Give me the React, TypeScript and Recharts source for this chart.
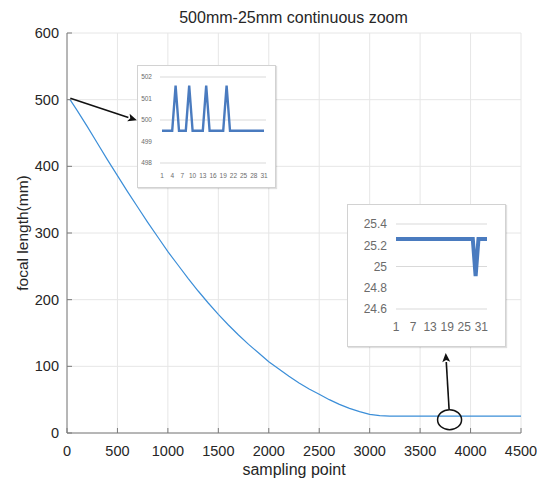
import {
  LineChart,
  Line,
  XAxis,
  YAxis,
  CartesianGrid,
  ReferenceLine,
  ReferenceDot,
} from 'recharts';

// main curve
const samplePoints = [
  30, 100, 200, 300, 400, 500, 600, 700, 800, 900, 1000, 1100, 1200, 1300,
  1400, 1500, 1600, 1700, 1800, 1900, 2000, 2100, 2200, 2300, 2400, 2500,
  2600, 2700, 2800, 2900, 3000, 3100, 3200, 3400, 3600, 3800, 4000, 4200,
  4500,
];
const focalLength = [
  500, 484, 460, 435, 410, 386, 362, 339, 316, 294, 272, 252, 232, 213, 195,
  178, 162, 147, 133, 120, 107, 96, 85, 75, 66, 58, 50, 43, 37, 32, 28, 26,
  25.3, 25.3, 25.3, 25.3, 25.3, 25.3, 25.3,
];
const xTicks = [0, 500, 1000, 1500, 2000, 2500, 3000, 3500, 4000, 4500];
const yTicks = [0, 100, 200, 300, 400, 500, 600];

// inset at the 500mm end
const startIndex = [
  '1', '2', '3', '4', '5', '6', '7', '8', '9', '10', '11', '12', '13', '14',
  '15', '16', '17', '18', '19', '20', '21', '22', '23', '24', '25', '26',
  '27', '28', '29', '30', '31',
];
const startValues = [
  499.5, 499.5, 499.5, 499.5, 501.6, 499.5, 499.5, 499.5, 501.6, 499.5,
  499.5, 499.5, 499.5, 501.6, 499.5, 499.5, 499.5, 499.5, 499.5, 501.6,
  499.5, 499.5, 499.5, 499.5, 499.5, 499.5, 499.5, 499.5, 499.5, 499.5,
  499.5,
];
const startTicks = [498, 499, 500, 501, 502];

// inset at the 25mm end
const endIndex = [
  '1', '2', '3', '4', '5', '6', '7', '8', '9', '10', '11', '12', '13', '14',
  '15', '16', '17', '18', '19', '20', '21', '22', '23', '24', '25', '26',
  '27', '28', '29', '30', '31', '32', '33',
];
const endValues = [
  25.26, 25.26, 25.26, 25.26, 25.26, 25.26, 25.26, 25.26, 25.26, 25.26,
  25.26, 25.26, 25.26, 25.26, 25.26, 25.26, 25.26, 25.26, 25.26, 25.26,
  25.26, 25.26, 25.26, 25.26, 25.26, 25.26, 25.26, 25.26, 24.91, 25.26,
  25.26, 25.26, 25.26,
];
const endTicks = [24.6, 24.8, 25, 25.2, 25.4];

// annotation arrows / circle (data coords)
const arrowToStart = [
  { x: 33, y: 502 },
  { x: 693, y: 469 },
];
const arrowToEnd = [
  { x: 3787, y: 36 },
  { x: 3754, y: 120 },
];
const circleAt = { x: 3792, y: 20 };

const mainData = samplePoints.map((x, i) => ({ x, f: focalLength[i] }));
const startData = startIndex.map((k, i) => ({ k, v: startValues[i] }));
const endData = endIndex.map((k, i) => ({ k, v: endValues[i] }));

const FONT = '"Liberation Sans", Arial, sans-serif';
const AXIS = '#7a7a7a';
const TEXT = '#262626';
const INSET_LINE = '#4a7bbf';
const INSET_TEXT = '#6b6b6b';

const LeftTick = ({ x, y, payload }: any) => (
  <g>
    <text x={x} y={y} textAnchor="end" dominantBaseline="central" fontSize={14.5} fill={TEXT} fontFamily={FONT}>
      {payload.value}
    </text>
    <line x1={x + 8} x2={x + 13} y1={y} y2={y} stroke={AXIS} />
  </g>
);

const BottomTick = ({ x, y, payload }: any) => (
  <g>
    <text x={x} y={y} dy="0.71em" textAnchor="middle" fontSize={14.5} fill={TEXT} fontFamily={FONT}>
      {payload.value}
    </text>
    <line x1={x} x2={x} y1={y - 13} y2={y - 18} stroke={AXIS} />
  </g>
);

const TopTick = ({ x, y }: any) => <line x1={x} x2={x} y1={y} y2={y + 5} stroke={AXIS} />;
const RightTick = ({ x, y }: any) => <line x1={x} x2={x - 5} y1={y} y2={y} stroke={AXIS} />;

const Arrow = (props: any) => {
  const { x1, y1, x2, y2 } = props;
  const a = Math.atan2(y2 - y1, x2 - x1);
  const len = 9;
  const w = 4;
  const bx = x2 - len * Math.cos(a);
  const by = y2 - len * Math.sin(a);
  const px = -Math.sin(a) * w;
  const py = Math.cos(a) * w;
  return (
    <g>
      <line x1={x1} y1={y1} x2={bx} y2={by} stroke="#111" strokeWidth={1.6} />
      <path
        d={`M${x2},${y2} L${bx + px},${by + py} L${bx + 2 * Math.cos(a)},${by + 2 * Math.sin(a)} L${bx - px},${by - py} Z`}
        fill="#111"
      />
    </g>
  );
};

const Circle = ({ cx, cy }: any) => (
  <ellipse cx={cx} cy={cy} rx={12} ry={10} fill="none" stroke="#111" strokeWidth={1.5} />
);

const insetBox: React.CSSProperties = {
  position: 'absolute',
  background: '#fff',
  border: '1px solid #d2d2d2',
  boxShadow: '1px 1px 1px rgba(0,0,0,0.12)',
  boxSizing: 'border-box',
};

export default function App() {
  return (
    <div style={{ position: 'absolute', left: 0, top: 0, width: 537, height: 484, background: '#fff', fontFamily: FONT }}>
      <LineChart width={537} height={484} data={mainData} margin={{ top: 33, right: 16, left: 0, bottom: 0 }}>
        <CartesianGrid stroke="#e6e6e6" />
        <XAxis
          dataKey="x"
          type="number"
          domain={[0, 4500]}
          ticks={xTicks}
          height={51}
          stroke={AXIS}
          tickLine={false}
          tickSize={0}
          tickMargin={13}
          tick={BottomTick}
        />
        <XAxis
          xAxisId="top"
          orientation="top"
          type="number"
          domain={[0, 4500]}
          ticks={xTicks}
          height={0}
          stroke={AXIS}
          tickLine={false}
          tickSize={0}
          tickMargin={0}
          tick={TopTick}
        />
        <YAxis
          type="number"
          domain={[0, 600]}
          ticks={yTicks}
          width={67}
          stroke={AXIS}
          tickLine={false}
          tickSize={0}
          tickMargin={8}
          tick={LeftTick}
        />
        <YAxis
          yAxisId="right"
          orientation="right"
          type="number"
          domain={[0, 600]}
          ticks={yTicks}
          width={0}
          stroke={AXIS}
          tickLine={false}
          tickSize={0}
          tickMargin={0}
          tick={RightTick}
        />
        <Line
          dataKey="f"
          type="linear"
          stroke="#3b8ed8"
          strokeWidth={1.2}
          dot={false}
          isAnimationActive={false}
        />
        <ReferenceLine segment={arrowToStart} shape={Arrow} />
        <ReferenceLine segment={arrowToEnd} shape={Arrow} />
        <ReferenceDot x={circleAt.x} y={circleAt.y} r={10} shape={Circle} />
      </LineChart>

      <div style={{ position: 'absolute', left: 0, width: 587, top: 9, textAlign: 'center', fontSize: 16, color: TEXT }}>
        500mm-25mm continuous zoom
      </div>
      <div style={{ position: 'absolute', left: 0, width: 588, top: 461, textAlign: 'center', fontSize: 16, color: TEXT }}>
        sampling point
      </div>
      <div
        style={{
          position: 'absolute',
          left: 23,
          top: 233,
          transform: 'translate(-50%, -50%) rotate(-90deg)',
          whiteSpace: 'nowrap',
          fontSize: 15.5,
          color: TEXT,
        }}
      >
        focal length(mm)
      </div>

      <div style={{ ...insetBox, left: 137, top: 65, width: 139, height: 123 }}>
        <LineChart width={137} height={121} data={startData} margin={{ top: 11, right: 9, left: 0, bottom: 0 }}>
          <CartesianGrid vertical={false} stroke="#d9d9d9" strokeWidth={1.2} />
          <XAxis
            dataKey="k"
            interval={2}
            height={24}
            axisLine={false}
            tickLine={false}
            tickSize={0}
            tickMargin={10}
            padding={{ left: 2, right: 2 }}
            tick={{ fontSize: 6.5, fill: INSET_TEXT, fontFamily: FONT }}
          />
          <YAxis
            domain={[498, 502]}
            ticks={startTicks}
            width={22}
            axisLine={false}
            tickLine={false}
            tickSize={0}
            tickMargin={8}
            tick={{ fontSize: 6.5, fill: INSET_TEXT, fontFamily: FONT }}
          />
          <Line dataKey="v" type="linear" stroke={INSET_LINE} strokeWidth={2.4} dot={false} isAnimationActive={false} />
        </LineChart>
      </div>

      <div style={{ ...insetBox, left: 347, top: 204, width: 159, height: 143 }}>
        <LineChart width={157} height={141} data={endData} margin={{ top: 19, right: 18, left: 0, bottom: 0 }}>
          <CartesianGrid vertical={false} stroke="#d9d9d9" strokeWidth={1.2} />
          <XAxis
            dataKey="k"
            interval={5}
            height={37}
            axisLine={false}
            tickLine={false}
            tickSize={0}
            tickMargin={13}
            tick={{ fontSize: 12, fill: INSET_TEXT, fontFamily: FONT }}
          />
          <YAxis
            domain={[24.6, 25.4]}
            ticks={endTicks}
            width={48}
            axisLine={false}
            tickLine={false}
            tickSize={0}
            tickMargin={9}
            tick={{ fontSize: 12, fill: INSET_TEXT, fontFamily: FONT }}
          />
          <Line dataKey="v" type="linear" stroke={INSET_LINE} strokeWidth={4} dot={false} isAnimationActive={false} />
        </LineChart>
      </div>
    </div>
  );
}
